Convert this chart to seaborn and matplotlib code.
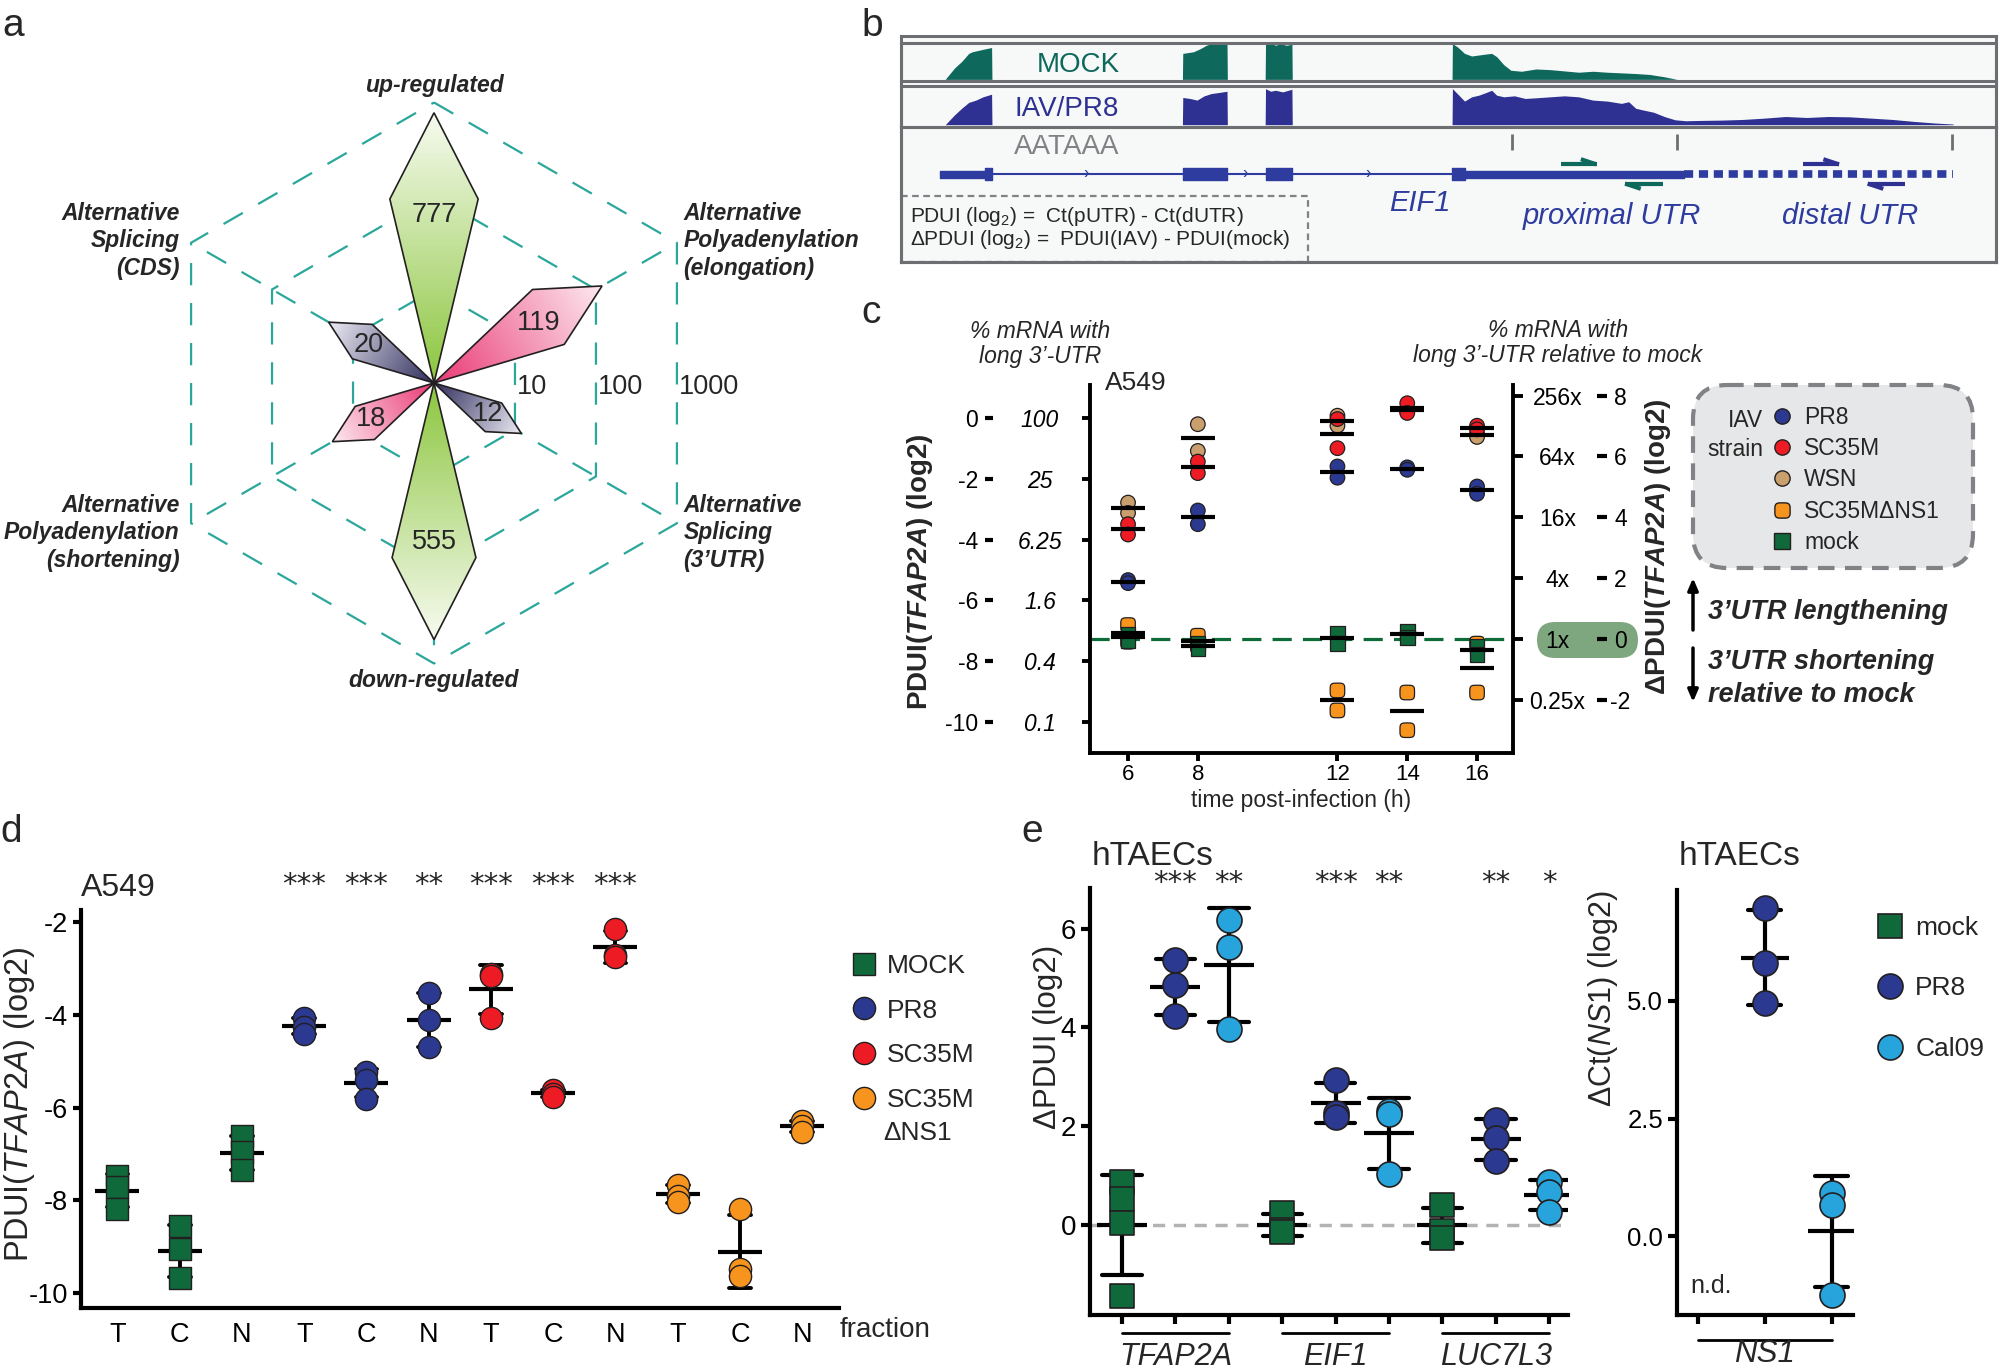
import numpy as np
import pandas as pd
import matplotlib
matplotlib.use('Agg')
import matplotlib.pyplot as plt
import matplotlib.transforms as mtransforms
import seaborn as sns
from matplotlib.colors import LinearSegmentedColormap
from matplotlib.lines import Line2D
from matplotlib.patches import FancyBboxPatch, Polygon, Rectangle

sns.set_style('ticks')
plt.rcParams['font.family'] = ['Liberation Sans', 'DejaVu Sans']
plt.rcParams['mathtext.fontset'] = 'custom'
plt.rcParams['mathtext.rm'] = 'Liberation Sans'
plt.rcParams['mathtext.it'] = 'Liberation Sans:italic'
plt.rcParams['mathtext.bf'] = 'Liberation Sans:bold'
HAS_BFIT = 'mathtext.bfit' in plt.rcParams
if HAS_BFIT:
    plt.rcParams['mathtext.bfit'] = 'Liberation Sans:bold:italic'
TF_BOLD = r'$\mathbfit{TFAP2A}$' if HAS_BFIT else r'$\it{TFAP2A}$'

# ---------------- data ----------------
# a: number of differentially processed transcripts per category
a_categories = ['up-regulated', 'Alternative\nPolyadenylation\n(elongation)',
                'Alternative\nSplicing\n(3’UTR)', 'down-regulated',
                'Alternative\nPolyadenylation\n(shortening)', 'Alternative\nSplicing\n(CDS)']
a_angles = [90, 30, -30, -90, -150, 150]
a_counts = [777, 119, 12, 555, 18, 20]
a_kinds = ['expr', 'apa', 'as', 'expr', 'apa', 'as']
a_rings = [10, 100, 1000]

# b: read coverage along EIF1 (track position, relative height)
b_mock_pos = [92, 105, 115, 125, 130, 140, 150, 157, 157.5,
              424.5, 425, 440, 450, 458, 465, 487, 487.5,
              540.5, 541, 548, 555, 562, 570, 578, 578.5,
              802.5, 803, 810, 820, 830, 840, 850, 858, 865, 875, 885, 900, 920, 940,
              960, 980, 1000, 1020, 1040, 1060, 1080, 1100, 1118]
b_mock_cov = [0, 35, 55, 80, 85, 90, 95, 98, 0,
              0, 80, 85, 95, 105, 110, 110, 0,
              0, 108, 112, 105, 110, 105, 108, 0,
              0, 110, 100, 80, 72, 75, 78, 80, 70, 45, 28, 25, 32, 30,
              26, 22, 25, 22, 20, 18, 15, 8, 0]
b_iav_pos = [92, 105, 115, 125, 135, 145, 157, 157.5,
             424.5, 425, 435, 445, 455, 465, 475, 487, 487.5,
             540.5, 541, 548, 555, 565, 578, 578.5,
             802.5, 803, 812, 820, 830, 840, 850, 858, 865, 875, 890, 905, 920, 940, 960,
             980, 1000, 1020, 1040, 1050, 1060, 1070, 1085, 1100, 1115, 1130, 1150, 1180,
             1210, 1240, 1270, 1300, 1330, 1360, 1390, 1420, 1450, 1480, 1505]
b_iav_cov = [0, 30, 50, 68, 75, 85, 93, 0,
             0, 83, 80, 75, 88, 95, 98, 102, 0,
             0, 110, 102, 105, 100, 108, 0,
             0, 110, 90, 72, 85, 90, 98, 105, 90, 85, 88, 80, 82, 85, 88,
             85, 75, 72, 65, 70, 50, 45, 38, 25, 15, 12, 13, 14,
             16, 20, 25, 22, 25, 24, 20, 16, 10, 5, 2]
b_exons = [(148, 157), (425, 487), (541, 578), (803, 820)]
b_utrs = [(84, 148), (820, 1128)]
b_ext_utr = (1128, 1505)
b_introns = (157, 803)
b_chevrons = [290, 513, 685]
b_pas = [886, 1118, 1503]
b_primers = [(955, 1005, 1, 'mock'), (1045, 1098, -1, 'mock'),
             (1295, 1345, 1, 'iav'), (1385, 1437, -1, 'iav')]

# c: PDUI(TFAP2A) over time, per strain (replicates)
c_times = [6, 8, 12, 14, 16]
c_pr8 = [[-5.33, -5.43], [-3.04, -3.49], [-1.59, -1.96], [-1.62, -1.70], [-2.25, -2.49]]
c_sc35m = [[-3.49, -3.83], [-1.43, -1.81], [-0.03, -0.99], [0.49, 0.17], [-0.25, -0.37]]
c_wsn = [[-2.78, -3.12], [-0.20, -1.08], [0.08, -0.25], [0.32, 0.22], [-0.52, -0.62]]
c_dns1 = [[-6.81, -7.36], [-7.16, -7.50], [-8.96, -9.62], [-9.03, -10.27], [-7.42, -9.03]]
c_mock = [[-7.10, -7.32], [-7.42, -7.60], [-7.07, -7.42], [-7.00, -7.22], [-7.50, -7.78]]
c_baseline = -7.26
c_pdui_ticks = [0, -2, -4, -6, -8, -10]
c_pct_labels = ['100', '25', '6.25', '1.6', '0.4', '0.1']
c_dpdui_ticks = [8, 6, 4, 2, 0, -2]
c_fold_labels = ['256x', '64x', '16x', '4x', '1x', '0.25x']

# d: PDUI(TFAP2A) in fractions (T total, C cytoplasm, N nucleus)
d_strains = ['MOCK', 'PR8', 'SC35M', 'SC35M ΔNS1']
d_fractions = ['T', 'C', 'N']
d_mock = [[-7.48, -7.71, -8.19], [-8.55, -9.05, -9.68], [-6.62, -6.95, -7.35]]
d_pr8 = [[-4.06, -4.25, -4.40], [-5.22, -5.40, -5.81], [-3.52, -4.10, -4.69]]
d_sc35m = [[-3.12, -3.15, -4.06], [-5.62, -5.70, -5.76], [-2.13, -2.70, -2.75]]
d_dns1 = [[-7.67, -7.90, -8.05], [-8.20, -9.49, -9.64], [-6.29, -6.40, -6.53]]
d_stars = ['', '', '', '***', '***', '**', '***', '***', '***', '', '', '']

# e: hTAECs, ΔPDUI per gene and ΔCt(NS1)
e_genes = ['TFAP2A', 'EIF1', 'LUC7L3']
e_conds = ['mock', 'PR8', 'Cal09']
e_tfap2a = [[0.87, 0.53, 0.05, -1.44], [5.36, 4.86, 4.22], [6.18, 5.63, 3.96]]
e_eif1 = [[0.25, -0.10, -0.15], [2.93, 2.27, 2.19], [2.30, 2.25, 1.03]]
e_luc7l3 = [[0.40, -0.13, -0.27], [2.13, 1.77, 1.30], [0.87, 0.67, 0.27]]
e_stars = ['', '***', '**', '', '***', '**', '', '**', '*']
e_ns1 = [[], [6.97, 5.80, 4.96], [0.91, 0.66, -1.25]]

# ---------------- colours ----------------
NAVY, RED, TAN, ORANGE = '#2b3990', '#ed1c24', '#c9a06d', '#f7941d'
GREEN, LBLUE, EDGE = '#10693a', '#27a4dc', '#231f20'
HEX_COL, BOX_GRAY = '#2aa79a', '#6d6e71'
MOCK_TEAL, IAV_BLUE, GENE_BLUE = '#0e685c', '#2e3192', '#2d3c9e'

W, H = 2001, 1370
fig = plt.figure(figsize=(W / 100, H / 100), dpi=100)


def px_axes(x0, y0, x1, y1):
    return fig.add_axes([x0 / W, 1 - y1 / H, (x1 - x0) / W, (y1 - y0) / H])


def strip_ticks(ax):
    ax.set_xticks([])
    ax.set_yticks([])


def style_axes(ax, lw=2.8, ticklen=6):
    sns.despine(ax=ax)
    for side in ('left', 'bottom'):
        ax.spines[side].set_linewidth(lw)
        ax.spines[side].set_color('black')
    ax.tick_params(colors='black', width=lw, length=ticklen, direction='out')


back = px_axes(0, 0, W, H)
back.set_xlim(0, W)
back.set_ylim(H, 0)
back.axis('off')

# ---------------- a: radar of event counts ----------------
A_CX, A_CY, A_DEC = 434, 383, 93.5
ax_a = px_axes(0, 0, 870, 700)
ax_a.axis('off')
ang = np.deg2rad(a_angles)
hex_kw = dict(color=HEX_COL, lw=1.6, ls=(0, (10, 8)), zorder=1)
for ring in np.log10(a_rings):
    ax_a.plot(np.r_[np.cos(ang), np.cos(ang[0])] * ring,
              np.r_[np.sin(ang), np.sin(ang[0])] * ring, **hex_kw)
for th in ang:
    r_out = np.log10(a_rings[-1])
    ax_a.plot([0, r_out * np.cos(th)], [0, r_out * np.sin(th)], **hex_kw)

petal_cols = {'expr': ('#8cc63f', '#f7fbf0'), 'apa': ('#ea3a76', '#fdeaf0'),
              'as': ('#2f2d5c', '#ecebf4')}
for th_deg, n, kind in zip(a_angles, a_counts, a_kinds):
    L = np.log10(n)
    th, dth = np.deg2rad(th_deg), np.deg2rad(13.5)
    verts = np.array([[0, 0],
                      [0.7 * L * np.cos(th + dth), 0.7 * L * np.sin(th + dth)],
                      [L * np.cos(th), L * np.sin(th)],
                      [0.7 * L * np.cos(th - dth), 0.7 * L * np.sin(th - dth)]])
    poly = Polygon(verts, closed=True, fc='none', ec=EDGE, lw=1.2, zorder=4)
    ax_a.add_patch(poly)
    (x0, y0), (x1, y1) = verts.min(0), verts.max(0)
    gx, gy = np.meshgrid(np.linspace(x0, x1, 150), np.linspace(y0, y1, 150))
    t = (gx * np.cos(th) + gy * np.sin(th)) / L
    cmap = LinearSegmentedColormap.from_list(kind, petal_cols[kind])
    im = ax_a.imshow(t, extent=(x0, x1, y0, y1), origin='lower', cmap=cmap, vmin=0, vmax=1,
                     aspect='auto', interpolation='bilinear', zorder=3)
    im.set_clip_path(poly)
    ax_a.text(0.62 * L * np.cos(th), 0.62 * L * np.sin(th), str(n), ha='center',
              va='center', fontsize=19.5, zorder=5)

for ring, lab in zip(np.log10(a_rings), a_rings):
    ax_a.text(ring * np.cos(np.pi / 6) + 0.02, -0.04, str(lab), ha='left', va='center',
              fontsize=19.5)

for th_deg, lab in zip(a_angles, a_categories):
    c, s = np.cos(np.deg2rad(th_deg)), np.sin(np.deg2rad(th_deg))
    if abs(c) < 0.01:
        ax_a.text(0, 3.18 * np.sign(s), lab, ha='center', va='center', fontsize=16.5,
                  fontweight='bold', fontstyle='italic')
    else:
        ax_a.text(2.67 if c > 0 else -2.72, 1.52 if s > 0 else -1.60, lab,
                  ha='left' if c > 0 else 'right', va='center', fontsize=16.5,
                  fontweight='bold', fontstyle='italic', linespacing=1.25)
ax_a.set_xlim(-A_CX / A_DEC, (870 - A_CX) / A_DEC)
ax_a.set_ylim((A_CY - 700) / A_DEC, A_CY / A_DEC)

# ---------------- b: coverage tracks ----------------
frame = px_axes(901, 36, 1996, 262)
frame.set_facecolor('#f7f8f8')
strip_ticks(frame)
for sp in frame.spines.values():
    sp.set_color(BOX_GRAY)
    sp.set_linewidth(2.2)
ax_m = px_axes(901, 43, 1996, 81)
ax_i = px_axes(901, 86, 1996, 127)
ax_g = px_axes(901, 127, 1996, 262)
for ax in (ax_m, ax_i, ax_g):
    ax.set_facecolor('none')
    strip_ticks(ax)
    ax.set_xlim(30, 1565)
    for sp in ax.spines.values():
        sp.set_color(BOX_GRAY)
        sp.set_linewidth(2.2)

ax_m.fill_between(b_mock_pos, b_mock_cov, 0, color=MOCK_TEAL, lw=0)
ax_m.set_ylim(-5, 112)
ax_m.text(278, 45, 'MOCK', color=MOCK_TEAL, fontsize=20, ha='center', va='center')
ax_i.fill_between(b_iav_pos, b_iav_cov, 0, color=IAV_BLUE, lw=0)
ax_i.set_ylim(-7, 118)
ax_i.text(262, 48, 'IAV/PR8', color=IAV_BLUE, fontsize=20, ha='center', va='center')

ax_g.set_ylim(790, 375)
ax_g.vlines(b_pas, 395, 445, color=BOX_GRAY, lw=2)
ax_g.text(262, 435, 'AATAAA', color='#808285', fontsize=20, ha='center', va='center')
ax_g.hlines(520, *b_introns, color=GENE_BLUE, lw=1.5)
for x in b_chevrons:
    ax_g.text(x, 519, '›', color=GENE_BLUE, fontsize=12, ha='center', va='center')
ax_g.broken_barh([(s, e - s) for s, e in b_utrs], (509, 22), color=GENE_BLUE)
ax_g.broken_barh([(s, e - s) for s, e in b_exons], (500, 38), color=GENE_BLUE)
ax_g.plot(b_ext_utr, [520, 520], color=GENE_BLUE, lw=5.5, ls=(0, (1.2, 0.75)),
          dash_capstyle='butt')
for s, e, d, who in b_primers:
    col = MOCK_TEAL if who == 'mock' else IAV_BLUE
    y = 490 if d > 0 else 549
    tip = e if d > 0 else s
    ax_g.plot([s, e], [y, y], color=col, lw=3, solid_capstyle='butt')
    ax_g.plot([tip, tip - d * 22], [y, y - d * 16], color=col, lw=3, solid_capstyle='butt')
ax_g.text(758, 610, 'EIF1', color=GENE_BLUE, fontsize=21, fontstyle='italic',
          ha='center', va='center')
ax_g.text(1027, 650, 'proximal UTR', color=GENE_BLUE, fontsize=21, fontstyle='italic',
          ha='center', va='center')
ax_g.text(1360, 650, 'distal UTR', color=GENE_BLUE, fontsize=21, fontstyle='italic',
          ha='center', va='center')
ax_g.add_patch(Rectangle((30, 588), 570, 202, fill=False, ec='#808285', lw=1.6,
                         ls=(0, (3, 2))))
ax_g.text(42, 650, r'PDUI (log$_2$) =  Ct(pUTR) - Ct(dUTR)', fontsize=15, va='center')
ax_g.text(42, 720, r'ΔPDUI (log$_2$) =  PDUI(IAV) - PDUI(mock)', fontsize=15, va='center')

# ---------------- c: time course ----------------
c_series = [('WSN', c_wsn), ('SC35MΔNS1', c_dns1), ('PR8', c_pr8), ('SC35M', c_sc35m),
            ('mock', c_mock)]
rows = []
for strain, reps in c_series:
    for t, vals in zip(c_times, reps):
        for v in vals:
            rows.append((strain, t, v))
df_c = pd.DataFrame(rows, columns=['strain', 'time', 'pdui'])
c_palette = {'PR8': NAVY, 'SC35M': RED, 'WSN': TAN, 'SC35MΔNS1': ORANGE, 'mock': GREEN}
tt = np.linspace(0, 2 * np.pi, 48)
squircle = np.c_[np.sign(np.cos(tt)) * np.abs(np.cos(tt)) ** 0.5,
                 np.sign(np.sin(tt)) * np.abs(np.sin(tt)) ** 0.5]
c_markers = {'PR8': 'o', 'SC35M': 'o', 'WSN': 'o', 'SC35MΔNS1': squircle, 'mock': 's'}

ax_c = px_axes(1090, 385, 1513, 753)
ax_c.axhline(c_baseline, color='#0c6b36', lw=2.3, ls=(0, (6, 3.5)), zorder=0)
sns.scatterplot(data=df_c, x='time', y='pdui', hue='strain', style='strain',
                palette=c_palette, markers=c_markers, s=110, edgecolor=EDGE, linewidth=0.9,
                legend=False, ax=ax_c)
sns.pointplot(data=df_c, x='time', y='pdui', hue='strain', native_scale=True,
              errorbar=None, palette={k: 'black' for k in c_palette}, marker='_',
              markersize=25, markeredgewidth=3, linestyle='none', legend=False, ax=ax_c)
style_axes(ax_c, lw=2.8, ticklen=6)
ax_c.set_xlim(4.91, 17.03)
ax_c.set_ylim(-11.02, 1.09)
ax_c.set_xticks(c_times)
ax_c.set_xticklabels([str(t) for t in c_times], fontsize=16)
ax_c.tick_params(axis='x', pad=2)
ax_c.set_xlabel('time post-infection (h)', fontsize=16.5, labelpad=3)
ax_c.set_ylabel('')
ax_c.set_yticks(c_pdui_ticks)
ax_c.set_yticklabels(c_pct_labels, fontsize=16.5, fontstyle='italic')
plt.setp(ax_c.get_yticklabels(), ha='center')
ax_c.tick_params(axis='y', pad=30)

sec_l = ax_c.secondary_yaxis((985 - 1090) / 423)
sec_l.set_yticks(c_pdui_ticks, labels=[str(v) for v in c_pdui_ticks])
sec_l.spines['left'].set_visible(False)
sec_l.tick_params(direction='in', length=6, width=3, pad=5, labelsize=16.5, colors='black')

fwd = lambda y: y - c_baseline
inv = lambda d: d + c_baseline
sec_r = ax_c.secondary_yaxis('right', functions=(fwd, inv))
sec_r.set_yticks(c_dpdui_ticks, labels=c_fold_labels)
sec_r.spines['right'].set_linewidth(2.8)
sec_r.spines['right'].set_color('black')
sec_r.tick_params(direction='out', length=7, width=2.8, pad=25, labelsize=16.5, colors='black')
plt.setp(sec_r.get_yticklabels(), ha='center')
sec_r2 = ax_c.secondary_yaxis((1597 - 1090) / 423, functions=(fwd, inv))
sec_r2.set_yticks(c_dpdui_ticks, labels=[str(v) for v in c_dpdui_ticks])
sec_r2.spines['right'].set_visible(False)
sec_r2.tick_params(direction='out', length=7, width=3, pad=10, labelsize=16.5, colors='black')
plt.setp(sec_r2.get_yticklabels(), ha='center')

back.add_patch(FancyBboxPatch((1537, 622), 101, 36, boxstyle='round,pad=0,rounding_size=18',
                              fc='#7fa77f', ec='none'))
back.add_patch(FancyBboxPatch((1693, 385), 280, 183, boxstyle='round,pad=0,rounding_size=34',
                              fc='#e6e7e8', ec='#808285', lw=3, ls=(0, (4, 2.5))))
c_handles = [Line2D([], [], ls='none', marker=c_markers[k], markersize=11,
                    markerfacecolor=c_palette[k], markeredgecolor=EDGE, markeredgewidth=1)
             for k in ['PR8', 'SC35M', 'WSN', 'SC35MΔNS1', 'mock']]
fig.legend(c_handles, ['PR8', 'SC35M', 'WSN', 'SC35MΔNS1', 'mock'], loc='upper left',
           bbox_to_anchor=(1771 / W, 1 - 406 / H), frameon=False, fontsize=16.5,
           handlelength=1.0, handletextpad=0.45, labelspacing=0.36, borderpad=0,
           borderaxespad=0)

# ---------------- d: fractions ----------------
rows = []
for strain, reps in zip(d_strains, [d_mock, d_pr8, d_sc35m, d_dns1]):
    for frac, vals in zip(d_fractions, reps):
        for v in vals:
            rows.append((strain, f'{strain} {frac}', v))
df_d = pd.DataFrame(rows, columns=['strain', 'cat', 'pdui'])
d_order = [f'{s} {f}' for s in d_strains for f in d_fractions]
d_palette = dict(zip(d_strains, [GREEN, NAVY, RED, ORANGE]))
d_marker = dict(zip(d_strains, ['s', 'o', 'o', 'o']))

ax_d = px_axes(81, 910, 839, 1308)
sns.pointplot(data=df_d, x='cat', y='pdui', hue='strain', order=d_order, errorbar='sd',
              capsize=0.35, palette={k: 'black' for k in d_strains}, marker='_',
              markersize=31, markeredgewidth=3, linestyle='none',
              err_kws={'linewidth': 2.8}, legend=False, ax=ax_d)
for strain in d_strains:
    sns.stripplot(data=df_d[df_d.strain == strain], x='cat', y='pdui', order=d_order,
                  color=d_palette[strain], marker=d_marker[strain], size=16, jitter=False,
                  edgecolor=EDGE, linewidth=1, ax=ax_d, zorder=3)
style_axes(ax_d, lw=3, ticklen=6)
ax_d.set_xlim(-0.585, 11.59)
ax_d.set_ylim(-10.33, -1.73)
ax_d.set_yticks([-2, -4, -6, -8, -10])
ax_d.set_yticklabels(['-2', '-4', '-6', '-8', '-10'], fontsize=19.5)
ax_d.set_xticks(range(len(d_order)))
ax_d.set_xticklabels(d_fractions * len(d_strains), fontsize=19.5)
ax_d.tick_params(axis='x', length=0, pad=10)
ax_d.set_xlabel('')
ax_d.set_ylabel('')
tr_d = mtransforms.blended_transform_factory(ax_d.transData, ax_d.transAxes)
for i, st in enumerate(d_stars):
    if st:
        ax_d.text(i, 1.062, st, transform=tr_d, ha='center', va='center', fontsize=21,
                  family='DejaVu Sans')
d_handles = [Line2D([], [], ls='none', marker=d_marker[k], markersize=16,
                    markerfacecolor=d_palette[k], markeredgecolor=EDGE, markeredgewidth=1)
             for k in d_strains]
fig.legend(d_handles, ['MOCK', 'PR8', 'SC35M', 'SC35M'], loc='upper left',
           bbox_to_anchor=(851 / W, 1 - 954 / H), frameon=False, fontsize=19,
           handlelength=1.0, handletextpad=0.36, labelspacing=0.78, borderpad=0,
           borderaxespad=0)

# ---------------- e: hTAECs ----------------
rows = []
for gene, reps in zip(e_genes, [e_tfap2a, e_eif1, e_luc7l3]):
    for cond, vals in zip(e_conds, reps):
        for v in vals:
            rows.append((cond, f'{gene} {cond}', v))
df_e = pd.DataFrame(rows, columns=['cond', 'cat', 'dpdui'])
e_order = [f'{g} {c}' for g in e_genes for c in e_conds]
e_palette = dict(zip(e_conds, [GREEN, NAVY, LBLUE]))
e_marker = dict(zip(e_conds, ['s', 'o', 'o']))
e_size = dict(zip(e_conds, [17, 18, 18]))

ax_e = px_axes(1090, 888, 1568, 1315)
ax_e.axhline(0, color='#b3b3b3', lw=2.5, ls=(0, (3.5, 2.5)), zorder=0)
sns.pointplot(data=df_e, x='cat', y='dpdui', hue='cond', order=e_order, errorbar='sd',
              capsize=0.74, palette={k: 'black' for k in e_conds}, marker='_',
              markersize=36, markeredgewidth=3, linestyle='none',
              err_kws={'linewidth': 3}, legend=False, ax=ax_e)
for cond in e_conds:
    sns.stripplot(data=df_e[df_e.cond == cond], x='cat', y='dpdui', order=e_order,
                  color=e_palette[cond], marker=e_marker[cond], size=e_size[cond],
                  jitter=False, edgecolor=EDGE, linewidth=1.2, ax=ax_e, zorder=3)
style_axes(ax_e, lw=3, ticklen=6.5)
ax_e.set_xlim(-0.6, 8.35)
ax_e.set_ylim(-1.82, 6.82)
ax_e.set_yticks([0, 2, 4, 6])
ax_e.set_yticklabels(['0', '2', '4', '6'], fontsize=20)
ax_e.set_xticks(range(len(e_order)))
ax_e.set_xticklabels([])
ax_e.set_xlabel('')
ax_e.set_ylabel('')
tr_e = mtransforms.blended_transform_factory(ax_e.transData, ax_e.transAxes)
for i, st in enumerate(e_stars):
    if st:
        ax_e.text(i, 1.011, st, transform=tr_e, ha='center', va='center', fontsize=21,
                  family='DejaVu Sans')
for gi, gene in enumerate(e_genes):
    i0, i1 = 3 * gi, 3 * gi + 2
    ax_e.plot([i0, i1], [-0.042, -0.042], transform=tr_e, color='black', lw=2,
              clip_on=False)
    ax_e.text((i0 + i1) / 2, -0.098, gene, transform=tr_e, ha='center', va='center',
              fontsize=22, fontstyle='italic')

rows = []
for cond, vals in zip(e_conds, e_ns1):
    for v in vals:
        rows.append((cond, v))
df_ns1 = pd.DataFrame(rows, columns=['cond', 'dct'])
ax_n = px_axes(1677, 890, 1853, 1315)
sns.pointplot(data=df_ns1, x='cond', y='dct', hue='cond', order=e_conds, errorbar='sd',
              capsize=0.5, palette={k: 'black' for k in e_conds}, marker='_',
              markersize=35, markeredgewidth=3, linestyle='none',
              err_kws={'linewidth': 3}, legend=False, ax=ax_n)
for cond in e_conds[1:]:
    sns.stripplot(data=df_ns1[df_ns1.cond == cond], x='cond', y='dct', order=e_conds,
                  color=e_palette[cond], marker=e_marker[cond], size=e_size[cond],
                  jitter=False, edgecolor=EDGE, linewidth=1.2, ax=ax_n, zorder=3)
style_axes(ax_n, lw=3, ticklen=6.5)
ax_n.set_xlim(-0.31, 2.32)
ax_n.set_ylim(-1.67, 7.35)
ax_n.set_yticks([0, 2.5, 5])
ax_n.set_yticklabels(['0.0', '2.5', '5.0'], fontsize=18.5)
ax_n.set_xticks(range(3))
ax_n.set_xticklabels([])
ax_n.set_xlabel('')
ax_n.set_ylabel('')
ax_n.text(0.2, -1.05, 'n.d.', ha='center', va='center', fontsize=18)
tr_n = mtransforms.blended_transform_factory(ax_n.transData, ax_n.transAxes)
ax_n.plot([0, 2], [-0.058, -0.058], transform=tr_n, color='black', lw=2, clip_on=False)
ax_n.text(1, -0.127, 'NS1', transform=tr_n, ha='center', va='bottom', fontsize=22.5,
          fontstyle='italic')
e_handles = [Line2D([], [], ls='none', marker=e_marker[k], markersize=e_size[k],
                    markerfacecolor=e_palette[k], markeredgecolor=EDGE, markeredgewidth=1.2)
             for k in e_conds]
fig.legend(e_handles, e_conds, loc='upper left', bbox_to_anchor=(1877 / W, 1 - 916 / H),
           frameon=False, fontsize=19, handlelength=1.0, handletextpad=0.45,
           labelspacing=1.38, borderpad=0, borderaxespad=0)

# ---------------- free text ----------------
ov = px_axes(0, 0, W, H)
ov.set_xlim(0, W)
ov.set_ylim(H, 0)
ov.axis('off')
for lab, x, y in [('a', 2, 36), ('b', 861, 36), ('c', 861, 323), ('d', 0, 842), ('e', 1021, 842)]:
    ov.text(x, y, lab, fontsize=28, ha='left', va='baseline')

ov.text(1040, 344, '% mRNA with\nlong 3’-UTR', ha='center', va='center', fontsize=16.5,
        fontstyle='italic', linespacing=1.15)
ov.text(1558, 343, '% mRNA with\nlong 3’-UTR relative to mock', ha='center', va='center',
        fontsize=16.5, fontstyle='italic', linespacing=1.15)
ov.text(1105, 383, 'A549', fontsize=19, va='center')
ov.text(920, 572, 'PDUI(' + TF_BOLD + ') (log2)', rotation=90, ha='center', va='center',
        fontsize=20, fontweight='bold')
ov.text(1658, 547, 'ΔPDUI(' + TF_BOLD + ') (log2)', rotation=90, ha='center', va='center',
        fontsize=20, fontweight='bold')
ov.text(1763, 435, 'IAV\nstrain', ha='right', va='center', fontsize=16.5, linespacing=1.3)
arrow_kw = dict(arrowstyle='-|>,head_length=0.7,head_width=0.3', lw=2.5, color='black',
                shrinkA=0, shrinkB=0)
ov.annotate('', xy=(1693, 578), xytext=(1693, 630), arrowprops=arrow_kw)
ov.annotate('', xy=(1693, 702), xytext=(1693, 648), arrowprops=arrow_kw)
ov.text(1708, 612, '3’UTR lengthening', fontsize=19.5, fontweight='bold', fontstyle='italic',
        va='center')
ov.text(1708, 662, '3’UTR shortening', fontsize=19.5, fontweight='bold', fontstyle='italic',
        va='center')
ov.text(1708, 695, 'relative to mock', fontsize=19.5, fontweight='bold', fontstyle='italic',
        va='center')

ov.text(81, 888, 'A549', fontsize=23, va='center')
ov.text(20, 1104, r'PDUI($\it{TFAP2A}$) (log2)', rotation=90, ha='center', va='center',
        fontsize=23.5)
ov.text(883, 1133, 'ΔNS1', fontsize=19, va='center')
ov.text(840, 1330, 'fraction', fontsize=20, va='center')

ov.text(1092, 856, 'hTAECs', fontsize=24, va='center')
ov.text(1679, 856, 'hTAECs', fontsize=24, va='center')
ov.text(1048, 1037, 'ΔPDUI (log2)', rotation=90, ha='center', va='center', fontsize=22.5)
ov.text(1603, 998, r'ΔCt($\it{NS1}$) (log2)', rotation=90, ha='center', va='center',
        fontsize=22)

fig.savefig('out.png', dpi=100)
